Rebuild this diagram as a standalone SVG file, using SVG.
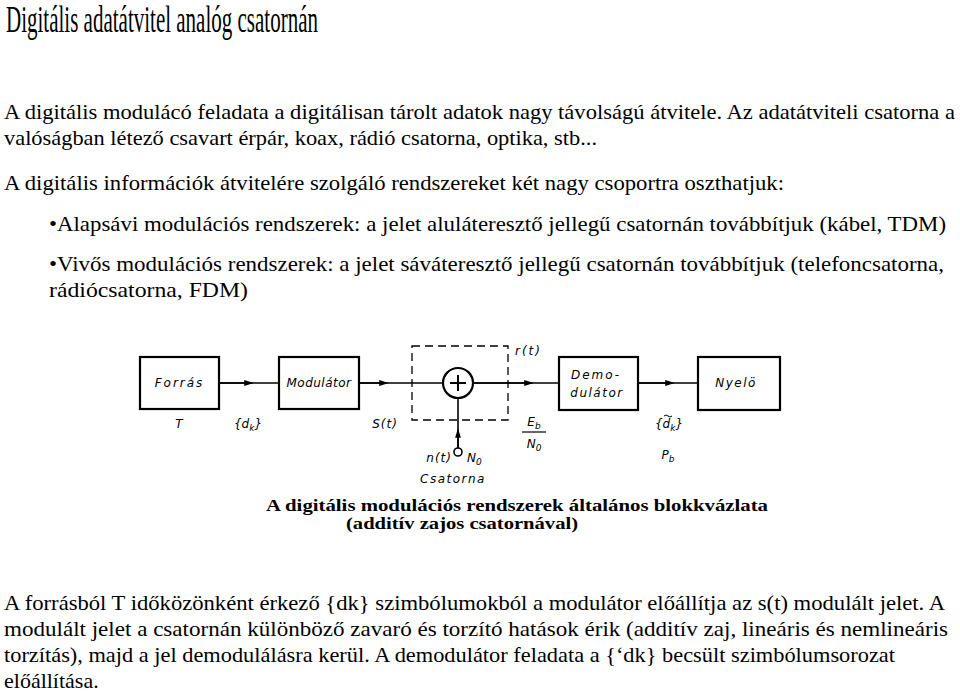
<svg xmlns="http://www.w3.org/2000/svg" width="960" height="693" viewBox="0 0 960 693">
<defs>
<style>
.t{font-family:"Liberation Serif","Times New Roman",serif;fill:#000}
.b{font-size:22px}
.d{font-family:"DejaVu Sans","Liberation Sans",sans-serif;font-style:italic;font-size:12px;fill:#000}
.box{fill:none;stroke:#000;stroke-width:2.2}
.ln{fill:none;stroke:#000;stroke-width:1.6}
.dash{fill:none;stroke:#000;stroke-width:1.3;stroke-dasharray:8,5}
</style>
<marker id="ah" viewBox="0 0 10 10" refX="5" refY="5" markerWidth="6" markerHeight="6" orient="auto"><path d="M0,2 L10,5 L0,8 z" fill="#000"/></marker>
</defs>
<rect width="960" height="693" fill="#fff"/>
<text class="t" x="6" y="32" font-size="37" textLength="312" lengthAdjust="spacingAndGlyphs">Digitális adatátvitel analóg csatornán</text>
<text class="t b" x="4" y="119" textLength="951" lengthAdjust="spacingAndGlyphs">A digitális modulácó feladata a digitálisan tárolt adatok nagy távolságú átvitele. Az adatátviteli csatorna a</text>
<text class="t b" x="4" y="145" textLength="593" lengthAdjust="spacingAndGlyphs">valóságban létező csavart érpár, koax, rádió csatorna, optika, stb...</text>
<text class="t b" x="4" y="190" textLength="780" lengthAdjust="spacingAndGlyphs">A digitális információk átvitelére szolgáló rendszereket két nagy csoportra oszthatjuk:</text>
<text class="t b" x="49" y="231" textLength="897" lengthAdjust="spacingAndGlyphs">•Alapsávi modulációs rendszerek: a jelet aluláteresztő jellegű csatornán továbbítjuk (kábel, TDM)</text>
<text class="t b" x="49" y="271" textLength="895" lengthAdjust="spacingAndGlyphs">•Vivős modulációs rendszerek: a jelet sáváteresztő jellegű csatornán továbbítjuk (telefoncsatorna,</text>
<text class="t b" x="49" y="297" textLength="199" lengthAdjust="spacingAndGlyphs">rádiócsatorna, FDM)</text>

<g id="connectors">
<line class="ln" x1="219" y1="383" x2="279" y2="383"/>
<line class="ln" x1="219" y1="383" x2="249" y2="383" marker-end="url(#ah)"/>
<line class="ln" x1="359" y1="383" x2="443" y2="383"/>
<line class="ln" x1="359" y1="383" x2="384" y2="383" marker-end="url(#ah)"/>
<line class="ln" x1="473" y1="383" x2="559" y2="383"/>
<line class="ln" x1="473" y1="383" x2="529" y2="383" marker-end="url(#ah)"/>
<line class="ln" x1="638" y1="383" x2="698" y2="383"/>
<line class="ln" x1="638" y1="383" x2="670" y2="383" marker-end="url(#ah)"/>
<line class="ln" x1="458" y1="448" x2="458" y2="398"/>
<line class="ln" x1="458" y1="448" x2="458" y2="433" marker-end="url(#ah)"/>
</g>

<g id="channel">
<rect class="dash" x="412" y="346" width="96" height="74"/>
<text class="d" x="515" y="355" letter-spacing="2">r(t)</text>
<text class="d" x="420" y="483" letter-spacing="1.5">Csatorna</text>
</g>

<g id="forras">
<rect class="box" x="140" y="357" width="79" height="52"/>
<text class="d" x="179.5" y="387" text-anchor="middle" letter-spacing="2">Forrás</text>
<text class="d" x="179" y="428" text-anchor="middle">T</text>
</g>

<g id="dk">
<text class="d" x="248" y="428" text-anchor="middle" font-size="14">{d<tspan font-size="9" dy="3">k</tspan><tspan dy="-3">}</tspan></text>
</g>

<g id="modulator">
<rect class="box" x="279" y="357" width="80" height="52"/>
<text class="d" x="319" y="387" text-anchor="middle" letter-spacing="0.5">Modulátor</text>
<text class="d" x="385" y="428" text-anchor="middle" letter-spacing="1">S(t)</text>
</g>

<g id="adder">
<circle cx="458" cy="383" r="15" fill="#fff" stroke="#000" stroke-width="2.2"/>
<path d="M450,383 H466 M458,375 V391" stroke="#000" stroke-width="2" fill="none"/>
</g>

<g id="noise">
<circle cx="458" cy="452" r="4" fill="#fff" stroke="#000" stroke-width="1.6"/>
<text class="d" x="452" y="462" text-anchor="end" letter-spacing="1">n(t)</text>
<text class="d" x="467" y="462">N<tspan font-size="9" dy="3">0</tspan></text>
</g>

<g id="ebn0">
<text class="d" x="534" y="426" text-anchor="middle">E<tspan font-size="9" dy="3">b</tspan></text>
<line x1="522" y1="432" x2="546" y2="432" stroke="#000" stroke-width="1.2"/>
<text class="d" x="534" y="448" text-anchor="middle">N<tspan font-size="9" dy="3">0</tspan></text>
</g>

<g id="demodulator">
<rect class="box" x="559" y="357" width="79" height="53"/>
<text class="d" x="596" y="379" text-anchor="middle" letter-spacing="2">Demo-</text>
<text class="d" x="597" y="397" text-anchor="middle" letter-spacing="1.5">dulátor</text>
</g>

<g id="dkhat">
<text class="d" x="669" y="428" text-anchor="middle" font-size="14">{<tspan>d</tspan><tspan font-size="9" dy="3">k</tspan><tspan dy="-3">}</tspan></text>
<path d="M664,416 q2,-2 4,0 t4,0" stroke="#000" stroke-width="1" fill="none"/>
<text class="d" x="668" y="459" text-anchor="middle">P<tspan font-size="9" dy="3">b</tspan></text>
</g>

<g id="nyelo">
<rect class="box" x="698" y="357" width="82" height="53"/>
<text class="d" x="736" y="387" text-anchor="middle" letter-spacing="1.5">Nyelö</text>
</g>

<g id="caption">
<text class="t" x="266" y="511" font-size="17" font-weight="bold" textLength="502" lengthAdjust="spacingAndGlyphs">A digitális modulációs rendszerek általános blokkvázlata</text>
<text class="t" x="346" y="529" font-size="17" font-weight="bold" textLength="232" lengthAdjust="spacingAndGlyphs">(additív zajos csatornával)</text>
</g>

<text class="t b" x="4" y="610" textLength="941" lengthAdjust="spacingAndGlyphs">A forrásból T időközönként érkező {dk} szimbólumokból a modulátor előállítja az s(t) modulált jelet. A</text>
<text class="t b" x="4" y="636" textLength="944" lengthAdjust="spacingAndGlyphs">modulált jelet a csatornán különböző zavaró és torzító hatások érik (additív zaj, lineáris és nemlineáris</text>
<text class="t b" x="4" y="662" textLength="891" lengthAdjust="spacingAndGlyphs">torzítás), majd a jel demodulálásra kerül. A demodulátor feladata a {‘dk} becsült szimbólumsorozat</text>
<text class="t b" x="4" y="688">előállítása.</text>
</svg>
